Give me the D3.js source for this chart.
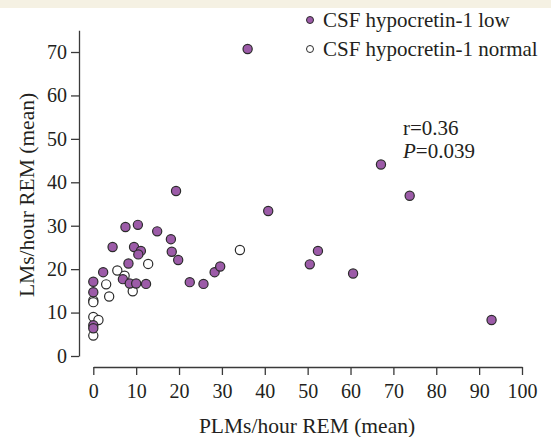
<!DOCTYPE html>
<html>
<head>
<meta charset="utf-8">
<script src="https://cdn.jsdelivr.net/npm/d3@7"></script>
<style>
  body { margin: 0; background: #fff; }
  text { font-family: "Liberation Serif", "Times New Roman", serif; fill: #231f20; }
  .axis path, .axis line { stroke: #3a3a3a; stroke-width: 1.3; }
  .axis text { font-size: 20px; font-family: "Liberation Serif", serif; fill: #231f20; }
</style>
</head>
<body>
<div id="chart"></div>
<script>
// PLMs/hour REM (x) vs LMs/hour REM (y)
var lowX = [19.3, 40.8, 7.5, 10.4, 14.9, 18.1, 18.3, 19.8, 4.5, 9.5, 11.1, 10.5, 8.2, 2.3, 6.9, 8.5, 10.0, 12.3,
            0, 0, 0, 0, 22.5, 25.7, 28.3, 29.6, 36.0, 67.1, 73.8, 52.4, 50.5, 60.6, 92.9];
var lowY = [38.0, 33.4, 29.7, 30.2, 28.7, 26.9, 24.0, 22.1, 25.1, 25.1, 24.2, 23.4, 21.3, 19.3, 17.7, 16.7, 16.7, 16.6,
            17.1, 14.7, 7.1, 6.4, 17.0, 16.6, 19.3, 20.6, 70.7, 44.1, 36.9, 24.2, 21.1, 19.0, 8.3];
var normX = [5.6, 7.3, 9.2, 12.8, 3.0, 3.7, 0, 0, 0, 1.2, 0, 34.2];
var normY = [19.7, 18.5, 14.9, 21.2, 16.5, 13.7, 12.8, 12.4, 9.0, 8.3, 4.7, 24.4];
var xTicks = [0, 10, 20, 30, 40, 50, 60, 70, 80, 90, 100];
var yTicks = [0, 10, 20, 30, 40, 50, 60, 70];
var legendLabels = ["CSF hypocretin-1 low", "CSF hypocretin-1 normal"];

var w = 551, h = 437;
var purple = "#9c5ba8";

var svg = d3.select("#chart").append("svg")
    .attr("width", w).attr("height", h);

// beige strip along the top
svg.append("rect").attr("x", 0).attr("y", 0).attr("width", w).attr("height", 8)
   .attr("fill", "#f5f1e3");

var x = d3.scaleLinear().domain([0, 100]).range([93.3, 522]);
var y = d3.scaleLinear().domain([0, 75]).range([356, 30.3]);

var yaxis = d3.axisLeft(y).tickValues(yTicks).tickSize(8).tickSizeOuter(0).tickPadding(4);
svg.append("g").attr("class", "axis")
   .attr("transform", "translate(79,0)")
   .call(yaxis);

var xaxis = d3.axisBottom(x).tickValues(xTicks).tickSize(8).tickSizeOuter(0).tickPadding(9);
svg.append("g").attr("class", "axis")
   .attr("transform", "translate(0,367)")
   .call(xaxis);

// axis titles
svg.append("text")
   .attr("x", 307).attr("y", 433)
   .attr("text-anchor", "middle")
   .style("font-size", "21.5px")
   .text("PLMs/hour REM (mean)");
svg.append("text")
   .attr("transform", "translate(34,195) rotate(-90)")
   .attr("text-anchor", "middle")
   .style("font-size", "21.5px")
   .text("LMs/hour REM (mean)");

// points: normal first, low on top
var normal = normX.map(function (d, i) { return [d, normY[i]]; });
var low = lowX.map(function (d, i) { return [d, lowY[i]]; });

svg.append("g").selectAll("circle")
   .data(normal).enter().append("circle")
   .attr("cx", function (d) { return x(d[0]); })
   .attr("cy", function (d) { return y(d[1]); })
   .attr("r", 4.6)
   .attr("fill", "#fff")
   .attr("stroke", "#2b2b2b")
   .attr("stroke-width", 1.2);

svg.append("g").selectAll("circle")
   .data(low).enter().append("circle")
   .attr("cx", function (d) { return x(d[0]); })
   .attr("cy", function (d) { return y(d[1]); })
   .attr("r", 4.6)
   .attr("fill", purple)
   .attr("stroke", "#2b2b2b")
   .attr("stroke-width", 1.2);

// legend
var legend = svg.append("g").selectAll("g")
   .data(legendLabels).enter().append("g")
   .attr("transform", function (d, i) { return "translate(310," + (20 + i * 29) + ")"; });
legend.append("circle")
   .attr("r", 3.5)
   .attr("fill", function (d, i) { return i === 0 ? purple : "#fff"; })
   .attr("stroke", "#2b2b2b")
   .attr("stroke-width", 1);
legend.append("text")
   .attr("x", 13).attr("y", 7)
   .style("font-size", "21px")
   .text(function (d) { return d; });

// correlation note
svg.append("text").attr("x", 403).attr("y", 135)
   .style("font-size", "21px").text("r=0.36");
var pt = svg.append("text").attr("x", 403).attr("y", 158).style("font-size", "21px");
pt.append("tspan").style("font-style", "italic").text("P");
pt.append("tspan").text("=0.039");
</script>
</body>
</html>
